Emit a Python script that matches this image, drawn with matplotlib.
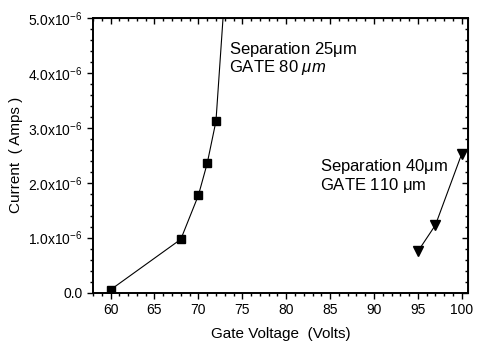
import numpy as np
import matplotlib
matplotlib.use('Agg')
import matplotlib.pyplot as plt
from matplotlib.ticker import MultipleLocator, FixedLocator, FixedFormatter

plt.rcParams['font.family'] = ['Liberation Sans', 'DejaVu Sans']
plt.rcParams['mathtext.fontset'] = 'custom'
plt.rcParams['mathtext.rm'] = 'Liberation Sans'
plt.rcParams['mathtext.it'] = 'Liberation Sans:italic'

## separation 25um, gate 80um (last point runs off the top)
v_25 = [60, 68, 70, 71, 72, 73]
i_25 = [0.05e-6, 0.97e-6, 1.77e-6, 2.35e-6, 3.12e-6, 5.45e-6]
## separation 40um, gate 110um
v_40 = [95, 97, 100]
i_40 = [0.75e-6, 1.23e-6, 2.53e-6]

x_ticks = [60, 65, 70, 75, 80, 85, 90, 95, 100]
y_ticks = [0, 1e-6, 2e-6, 3e-6, 4e-6, 5e-6]
y_labels = ['0.0', r'1.0x10$^{-6}$', r'2.0x10$^{-6}$', r'3.0x10$^{-6}$',
            r'4.0x10$^{-6}$', r'5.0x10$^{-6}$']

fig = plt.figure(figsize=(4.78, 3.43), dpi=100)
ax = fig.add_axes([0.1946, 0.1472, 0.7844, 0.8003])

ax.plot(v_25, i_25, '-k', lw=0.8)
ax.plot(v_25, i_25, 'sk', ms=5.8)
ax.plot(v_40, i_40, '-k', lw=0.8)
ax.plot(v_40, i_40, 'vk', ms=7)

ax.set_xlim(58, 100.7)
ax.set_ylim(0, 5e-6)

ax.xaxis.set_major_locator(FixedLocator(x_ticks))
ax.xaxis.set_minor_locator(MultipleLocator(1))
ax.yaxis.set_major_locator(FixedLocator(y_ticks))
ax.yaxis.set_major_formatter(FixedFormatter(y_labels))
ax.yaxis.set_minor_locator(MultipleLocator(0.2e-6))

ax.tick_params(which='both', direction='out', width=1.0, labelsize=10)
ax.tick_params(which='major', length=4)
ax.tick_params(which='minor', length=2.5)
for s in ax.spines.values():
    s.set_linewidth(1.4)

# mirrored ticks pointing inward on top/right
axt = ax.secondary_xaxis('top')
axt.xaxis.set_major_locator(FixedLocator(x_ticks))
axt.xaxis.set_minor_locator(MultipleLocator(1))
axt.tick_params(which='both', direction='in', labeltop=False, width=1.0)
axt.tick_params(which='major', length=4)
axt.tick_params(which='minor', length=2.5)
axr = ax.secondary_yaxis('right')
axr.yaxis.set_major_locator(FixedLocator(y_ticks))
axr.yaxis.set_minor_locator(MultipleLocator(0.2e-6))
axr.tick_params(which='both', direction='in', labelright=False, width=1.0)
axr.tick_params(which='major', length=4)
axr.tick_params(which='minor', length=2.5)

ax.set_xlabel('Gate Voltage  (Volts)', fontsize=11, labelpad=7)
ax.set_ylabel('Current  ( Amps )', fontsize=11)

ax.text(73.5, 4.35e-6, r'Separation 25$\mathrm{\mu}$m', fontsize=12)
ax.text(73.5, 4.01e-6, r'GATE 80 $\mu m$', fontsize=12)
ax.text(83.9, 2.22e-6, r'Separation 40$\mathrm{\mu}$m', fontsize=12)
ax.text(83.9, 1.87e-6, r'GATE 110 $\mathrm{\mu}$m', fontsize=12)

fig.savefig('out.png', dpi=100)
